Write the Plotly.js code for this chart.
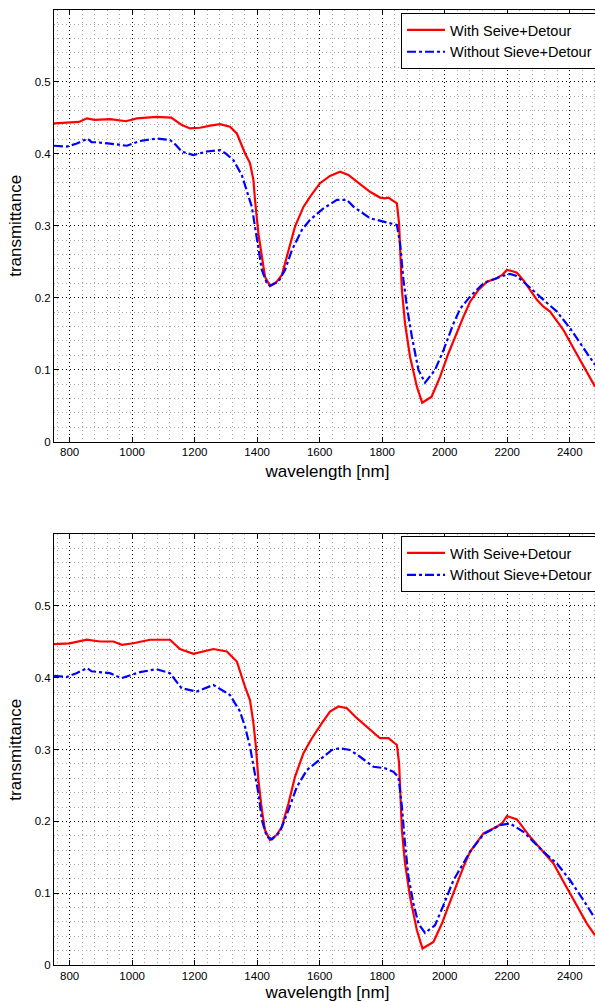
<!DOCTYPE html>
<html>
<head>
<meta charset="utf-8">
<script src="https://cdn.plot.ly/plotly-3.0.1.min.js"></script>
<style>
html,body{margin:0;padding:0;background:#fff;overflow:hidden;width:595px;height:1002px;}
#chart{width:610px;height:1002px;}
</style>
</head>
<body>
<div id="chart"></div>
<script>
// ---- Data ----
const seriesNames = ["With Seive+Detour", "Without Sieve+Detour"];

// Top panel, red (With Seive+Detour)
const topRedWl = [750,790,830,855,880,930,980,1015,1078,1125,1158,1185,1217,1250,1281,1313,1335,1361,1377,1388,1393,1404,1415,1425,1441,1462,1479,1500,1521,1548,1569,1601,1633,1665,1692,1719,1761,1793,1809,1820,1847,1854,1863,1873,1889,1911,1928,1958,1985,2012,2035,2060,2081,2108,2135,2167,2185,2199,2215,2231,2252,2273,2295,2316,2337,2358,2380,2412,2435,2455,2481];
const topRedT  = [0.442,0.443,0.444,0.449,0.447,0.448,0.445,0.449,0.451,0.450,0.440,0.435,0.436,0.439,0.441,0.4375,0.428,0.4005,0.387,0.3635,0.336,0.289,0.257,0.229,0.216,0.222,0.2315,0.266,0.2986,0.326,0.340,0.359,0.369,0.375,0.3704,0.361,0.347,0.339,0.338,0.339,0.331,0.303,0.2107,0.1644,0.118,0.0764,0.054,0.0625,0.090,0.1228,0.148,0.1736,0.1944,0.2107,0.222,0.227,0.232,0.2385,0.237,0.2347,0.224,0.2107,0.197,0.1875,0.1806,0.168,0.155,0.1297,0.112,0.0972,0.0764];

// Top panel, blue (Without Sieve+Detour)
const topBlueWl = [750,790,823,857,870,887,929,983,1025,1079,1121,1140,1159,1196,1239,1281,1300,1324,1351,1367,1383,1393,1404,1415,1431,1441,1468,1489,1511,1543,1569,1612,1655,1687,1708,1761,1804,1847,1857,1868,1879,1895,1916,1937,1969,1996,2028,2050,2081,2124,2177,2209,2230,2252,2316,2359,2401,2444,2481];
const topBlueT  = [0.411,0.4097,0.414,0.421,0.416,0.4158,0.414,0.411,0.4176,0.421,0.419,0.412,0.4028,0.398,0.403,0.405,0.400,0.391,0.370,0.3496,0.326,0.2986,0.266,0.2385,0.220,0.2165,0.222,0.2385,0.266,0.294,0.308,0.324,0.3357,0.3357,0.3264,0.3103,0.3056,0.301,0.2756,0.2246,0.1875,0.1458,0.0996,0.082,0.0996,0.127,0.164,0.185,0.2014,0.220,0.229,0.233,0.230,0.222,0.197,0.1806,0.1575,0.1297,0.1065];

// Bottom panel, red (With Seive+Detour)
const botRedWl = [750,800,855,897,940,967,1004,1057,1121,1153,1196,1260,1303,1335,1361,1377,1388,1396,1404,1415,1425,1441,1462,1479,1500,1521,1548,1575,1607,1633,1660,1687,1719,1761,1793,1820,1847,1854,1863,1873,1889,1911,1929,1964,1991,2007,2033,2060,2081,2124,2167,2185,2199,2231,2273,2316,2348,2380,2412,2455,2481];
const botRedT  = [0.4468,0.448,0.453,0.4505,0.4505,0.4459,0.448,0.4529,0.4529,0.440,0.4333,0.440,0.4366,0.4226,0.3877,0.369,0.3367,0.304,0.2576,0.2158,0.1879,0.174,0.181,0.1925,0.225,0.262,0.295,0.3158,0.3367,0.353,0.360,0.3576,0.3437,0.3273,0.3158,0.3158,0.3064,0.281,0.188,0.1414,0.0948,0.0484,0.0229,0.032,0.0577,0.0763,0.107,0.1367,0.1576,0.1833,0.1925,0.198,0.2074,0.2028,0.1785,0.1576,0.1414,0.1158,0.0902,0.0577,0.0414];

// Bottom panel, blue (Without Sieve+Detour)
const botBlueWl = [750,790,822,856,870,897,929,966,1025,1078,1121,1158,1206,1260,1313,1345,1361,1377,1393,1404,1415,1431,1447,1473,1500,1527,1559,1601,1639,1665,1697,1729,1772,1809,1836,1852,1863,1873,1884,1900,1916,1937,1969,1996,2028,2081,2124,2177,2209,2252,2316,2359,2401,2444,2481];
const botBlueT  = [0.4026,0.401,0.4064,0.4134,0.409,0.4078,0.4064,0.3994,0.4078,0.412,0.4064,0.3855,0.3808,0.390,0.376,0.353,0.332,0.304,0.267,0.239,0.2018,0.1785,0.175,0.1855,0.2158,0.248,0.2715,0.2855,0.2994,0.302,0.2994,0.290,0.276,0.274,0.269,0.262,0.2204,0.169,0.1227,0.0856,0.0577,0.0446,0.0554,0.0833,0.118,0.1576,0.1823,0.1948,0.197,0.1855,0.1576,0.1414,0.118,0.0902,0.0647];

const xTitle = "wavelength [nm]";
const yTitle = "transmittance";

// ---- Styling ----
const FONT = "Liberation Sans, Arial, Helvetica, sans-serif";
const redLine  = {color: "#ff0000", width: 2.2, dash: "solid"};
const blueLine = {color: "#0000ff", width: 2.2, dash: "dashdot"};

const traces = [
  {x: topRedWl, y: topRedT, name: seriesNames[0], type: "scatter", mode: "lines", line: redLine, xaxis: "x", yaxis: "y", legend: "legend"},
  {x: topBlueWl, y: topBlueT, name: seriesNames[1], type: "scatter", mode: "lines", line: blueLine, xaxis: "x", yaxis: "y", legend: "legend"},
  {x: botRedWl, y: botRedT, name: seriesNames[0], type: "scatter", mode: "lines", line: redLine, xaxis: "x2", yaxis: "y2", legend: "legend2"},
  {x: botBlueWl, y: botBlueT, name: seriesNames[1], type: "scatter", mode: "lines", line: blueLine, xaxis: "x2", yaxis: "y2", legend: "legend2"}
];

function xAxis(anchor) {
  return {
    anchor: anchor, domain: [0, 1], range: [750, 2500],
    tick0: 0, dtick: 200, ticks: "inside", ticklen: 5, tickwidth: 1, tickcolor: "#000",
    showline: true, linecolor: "#000", linewidth: 1, mirror: "ticks",
    showgrid: true, gridcolor: "#000", gridwidth: 1, griddash: "1px,3px",
    minor: {tick0: 0, dtick: 40, showgrid: true, gridcolor: "#a8a8a8", gridwidth: 1, griddash: "1px,3px", ticks: ""},
    zeroline: false,
    tickfont: {family: FONT, size: 11.5, color: "#000"},
    title: {text: xTitle, font: {family: FONT, size: 17, color: "#000"}, standoff: 7}
  };
}
function yAxis(anchor, domain) {
  return {
    anchor: anchor, domain: domain, range: [0, 0.5995],
    tick0: 0, dtick: 0.1, ticks: "inside", ticklen: 5, tickwidth: 1, tickcolor: "#000",
    showline: true, linecolor: "#000", linewidth: 1, mirror: "ticks",
    showgrid: true, gridcolor: "#000", gridwidth: 1, griddash: "1px,3px",
    minor: {tick0: 0, dtick: 0.02, showgrid: true, gridcolor: "#a8a8a8", gridwidth: 1, griddash: "1px,3px", ticks: ""},
    zeroline: false,
    tickfont: {family: FONT, size: 11.5, color: "#000"},
    title: {text: yTitle, font: {family: FONT, size: 17, color: "#000"}, standoff: 8}
  };
}

const legendStyle = {
  xanchor: "left", yanchor: "top", x: 0.6344,
  bgcolor: "#ffffff", bordercolor: "#000", borderwidth: 1,
  font: {family: FONT, size: 14.5, color: "#000"},
  itemwidth: 38,
  tracegroupgap: 0
};

const layout = {
  width: 610, height: 1002,
  margin: {l: 54, r: 9, t: 10, b: 37, pad: 0},
  paper_bgcolor: "#ffffff", plot_bgcolor: "#ffffff",
  showlegend: true,
  xaxis: xAxis("y"),
  yaxis: yAxis("x", [0.548, 1]),
  xaxis2: xAxis("y2"),
  yaxis2: yAxis("x2", [0, 0.4508]),
  legend: Object.assign({}, legendStyle, {y: 0.9969}),
  legend2: Object.assign({}, legendStyle, {y: 0.4492})
};

Plotly.newPlot("chart", traces, layout, {displayModeBar: false, staticPlot: true});
</script>
</body>
</html>
